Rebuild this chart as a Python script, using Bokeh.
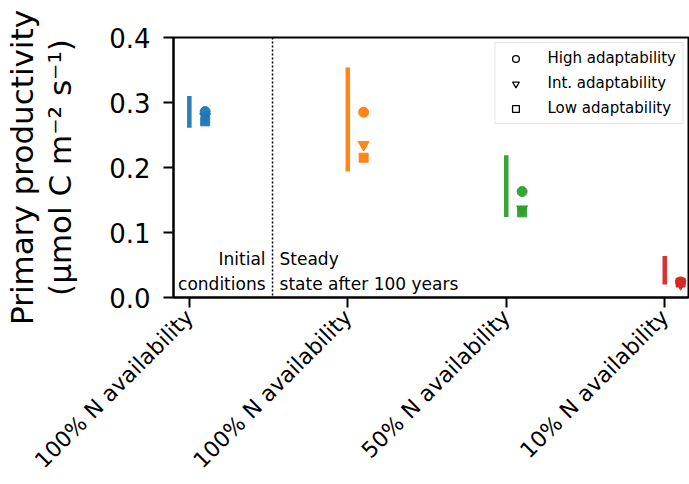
import numpy as np
from bokeh.plotting import figure
from bokeh.models import (FixedTicker, Span, Label, Legend, LegendItem,
                          ColumnDataSource, PrintfTickFormatter)
from bokeh.embed import file_html
from bokeh.resources import INLINE

# ---- data ----
categories = ["100% N availability", "100% N availability",
              "50% N availability", "10% N availability"]
positions = [0, 1, 2, 3]
colors = ["#1f77b4", "#ff7f0e", "#2ca02c", "#d62728"]
range_low = [0.261, 0.194, 0.124, 0.020]
range_high = [0.310, 0.354, 0.219, 0.064]
high_adapt = [0.286, 0.285, 0.163, 0.024]
int_adapt = [0.278, 0.235, 0.136, 0.021]
low_adapt = [0.271, 0.215, 0.131, 0.023]
marker_shift = 0.1
divider_x = 0.525
y_ticks = [0.0, 0.1, 0.2, 0.3, 0.4]

FONT = "DejaVu Sans"

p = figure(width=689, height=484, x_range=(-0.1, 3.15), y_range=(0, 0.4),
           output_backend="svg", toolbar_location=None,
           min_border_left=173, min_border_right=1, min_border_top=37,
           min_border_bottom=180)
p.grid.visible = False
p.outline_line_color = "black"
p.outline_line_width = 2
p.background_fill_color = "white"

# axes
for ax in (p.xaxis[0], p.yaxis[0]):
    ax.axis_line_width = 2
    ax.major_tick_line_width = 2
    ax.major_tick_out = 10
    ax.major_tick_in = 0
    ax.minor_tick_line_color = None
    ax.major_label_text_font = FONT
    ax.major_label_text_color = "black"

p.xaxis.ticker = FixedTicker(ticks=positions)
p.xaxis.major_label_overrides = {pos: cat for pos, cat in zip(positions, categories)}
p.xaxis.major_label_orientation = np.pi / 4
p.xaxis.major_label_text_font_size = "22px"
p.xaxis.major_label_standoff = 6

p.yaxis.ticker = FixedTicker(ticks=y_ticks)
p.yaxis.formatter = PrintfTickFormatter(format="%.1f")
p.yaxis.major_label_text_font_size = "26px"
p.yaxis.major_label_standoff = 13
p.yaxis.axis_label = "Primary productivity\n(µmol C m⁻² s⁻¹)"
p.yaxis.axis_label_text_font = FONT
p.yaxis.axis_label_text_font_size = "31px"
p.yaxis.axis_label_text_font_style = "normal"
p.yaxis.axis_label_text_color = "black"
p.yaxis.axis_label_text_line_height = 1.05
p.yaxis.axis_label_standoff = 28

# divider and annotations
p.add_layout(Span(location=divider_x, dimension="height", line_color="black",
                  line_width=1.5, line_dash="2 2"))
p.add_layout(Label(x=divider_x, y=0, x_offset=-7, y_offset=4,
                   text="Initial\nconditions", text_align="right",
                   text_baseline="bottom", text_font=FONT, text_color="black",
                   text_font_size="17px", text_line_height=1.25))
p.add_layout(Label(x=divider_x, y=0, x_offset=7, y_offset=4,
                   text="Steady\nstate after 100 years", text_align="left",
                   text_baseline="bottom", text_font=FONT, text_color="black",
                   text_font_size="17px", text_line_height=1.25))

# range bars
src = ColumnDataSource(dict(
    x=positions,
    xm=[x + marker_shift for x in positions],
    lo=range_low, hi=range_high,
    hi_a=high_adapt, int_a=int_adapt, lo_a=low_adapt,
    color=colors))
p.segment(x0="x", y0="lo", x1="x", y1="hi", source=src, line_color="color",
          line_width=4.5, line_alpha=0.95)

# markers
p.scatter(x="xm", y="hi_a", source=src, marker="circle", size=10,
          fill_color="color", line_color="color", alpha=0.95)
p.scatter(x="xm", y="int_a", source=src, marker="inverted_triangle", size=11,
          fill_color="color", line_color="color", alpha=0.95)
p.scatter(x="xm", y="lo_a", source=src, marker="square", size=9,
          fill_color="color", line_color="color", alpha=0.95)

# legend (hollow black markers)
dummy = ColumnDataSource(dict(x=[np.nan], y=[np.nan]))
r1 = p.scatter("x", "y", source=dummy, marker="circle", fill_color="white",
               line_color="black", line_width=1.3)
r2 = p.scatter("x", "y", source=dummy, marker="inverted_triangle",
               fill_color="white", line_color="black", line_width=1.3)
r3 = p.scatter("x", "y", source=dummy, marker="square", fill_color="white",
               line_color="black", line_width=1.3)
legend = Legend(items=[LegendItem(label="High adaptability", renderers=[r1]),
                       LegendItem(label="Int. adaptability", renderers=[r2]),
                       LegendItem(label="Low adaptability", renderers=[r3])],
                location="top_right", margin=5, padding=6, spacing=7,
                glyph_width=28, glyph_height=17, label_height=17,
                label_standoff=18, label_text_font=FONT,
                label_text_color="black",
                label_text_font_size="15px", border_line_color="#cccccc",
                border_line_width=1.5, background_fill_alpha=0.85)
p.add_layout(legend)

open("out.html", "w").write(file_html(p, INLINE))
